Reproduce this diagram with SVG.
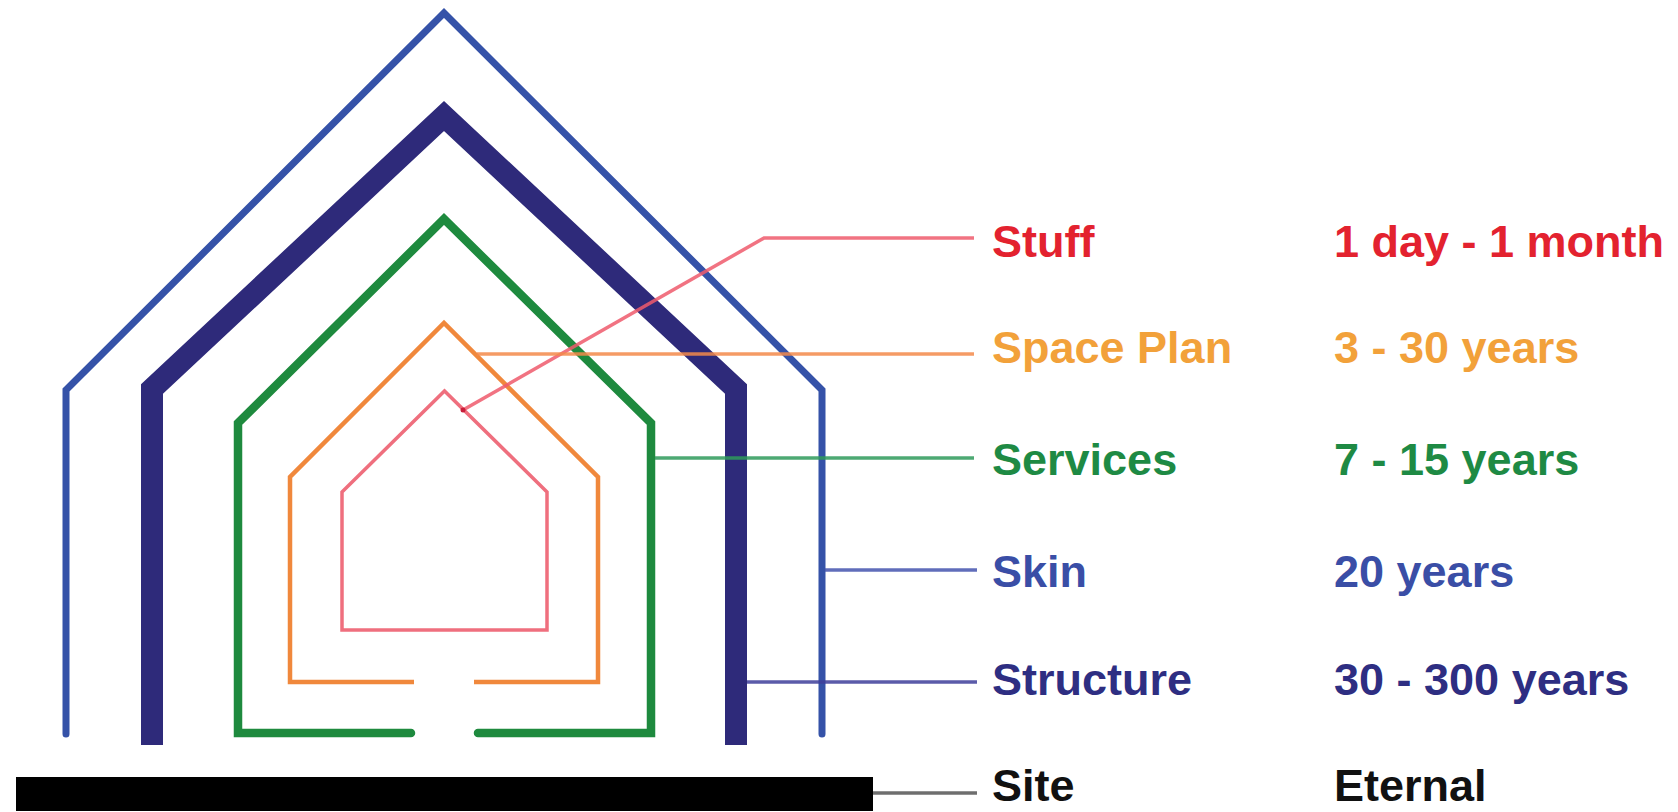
<svg xmlns="http://www.w3.org/2000/svg" width="1678" height="812" viewBox="0 0 1678 812">
<style>
  .lbl { font-family: "Liberation Sans", Arial, sans-serif; font-weight: bold; font-size: 45px; }
  .layer { fill: none; stroke-linejoin: miter; }
  .conn { fill: none; stroke-width: 3.5; stroke-opacity: 0.85; }
</style>
<rect x="0" y="0" width="1678" height="812" fill="#ffffff"/>
<g id="skin">
  <polyline class="layer" points="66,734 66,390 444,13 822,390 822,734" stroke="#3552a8" stroke-width="7" stroke-linecap="round"/>
</g>
<g id="structure">
  <polyline class="layer" points="152,745 152,389 444,116 736,389 736,745" stroke="#2e2a7a" stroke-width="22" stroke-linecap="butt"/>
</g>
<g id="services">
  <polyline class="layer" points="411,733 238,733 238,423 444,219 651,423 651,733 478,733" stroke="#1e8a3e" stroke-width="8.5" stroke-linecap="round"/>
</g>
<g id="space-plan">
  <polyline class="layer" points="414,682 290,682 290,477 444,323 598,477 598,682 474,682" stroke="#f0883c" stroke-width="4.5" stroke-linecap="butt"/>
</g>
<g id="stuff">
  <polygon class="layer" points="342,630 342,492 444.5,391 547,492 547,630" stroke="#ef6f7e" stroke-width="3.5"/>
</g>
<g id="site">
  <rect x="16" y="777" width="857" height="34" fill="#000000"/>
</g>
<g id="connectors">
  <polyline class="conn" points="463,410 764,238 974,238" stroke="#ef5a6c"/>
  <circle cx="463" cy="410" r="2.5" fill="#c81e3a"/>
  <line class="conn" x1="477" y1="354" x2="974" y2="354" stroke="#f3894a"/>
  <line class="conn" x1="655" y1="458" x2="974" y2="458" stroke="#2e9a5a"/>
  <line class="conn" x1="825" y1="570" x2="977" y2="570" stroke="#4454ae"/>
  <line class="conn" x1="747" y1="682" x2="977" y2="682" stroke="#3e3e9a"/>
  <line class="conn" x1="873" y1="793" x2="977" y2="793" stroke="#555555" stroke-width="3"/>
</g>
<g id="labels">
  <text class="lbl" x="992" y="257" fill="#e3222f">Stuff</text>
  <text class="lbl" x="1334" y="257" fill="#e3222f">1 day - 1 month</text>
  <text class="lbl" x="992" y="363" fill="#f2a13a">Space Plan</text>
  <text class="lbl" x="1334" y="363" fill="#f2a13a">3 - 30 years</text>
  <text class="lbl" x="992" y="475" fill="#1e8a44">Services</text>
  <text class="lbl" x="1334" y="475" fill="#1e8a44">7 - 15 years</text>
  <text class="lbl" x="992" y="587" fill="#3a4ea6">Skin</text>
  <text class="lbl" x="1334" y="587" fill="#3a4ea6">20 years</text>
  <text class="lbl" x="992" y="695" fill="#2e2e82">Structure</text>
  <text class="lbl" x="1334" y="695" fill="#2e2e82">30 - 300 years</text>
  <text class="lbl" x="992" y="801" fill="#111111">Site</text>
  <text class="lbl" x="1334" y="801" fill="#111111">Eternal</text>
</g>
</svg>
